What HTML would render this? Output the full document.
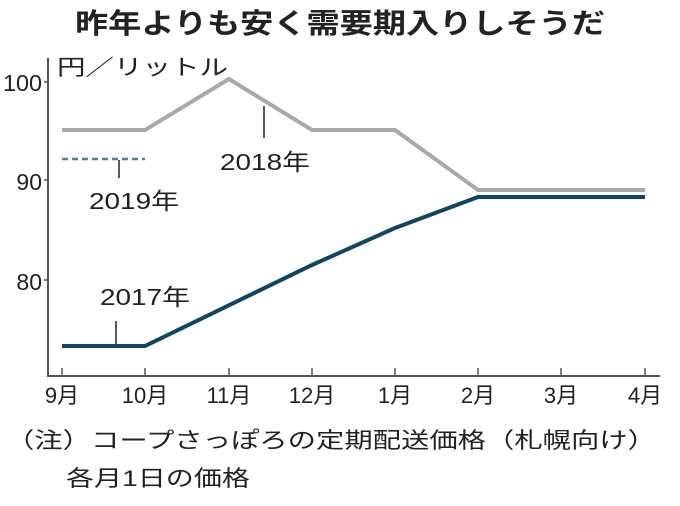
<!DOCTYPE html>
<html><head><meta charset="utf-8"><style>
body{margin:0;background:#fff;}
svg{display:block;}
text{font-family:"Liberation Sans","Noto Sans CJK JP",sans-serif;fill:#222;}
</style></head><body>
<svg width="680" height="506" viewBox="0 0 680 506">
<text x="75" y="33" font-size="28" font-weight="bold" textLength="530" lengthAdjust="spacingAndGlyphs" fill="#111">昨年よりも安く需要期入りしそうだ</text>
<line x1="48" y1="58" x2="48" y2="376" stroke="#555" stroke-width="2"/>
<line x1="47" y1="376" x2="660" y2="376" stroke="#555" stroke-width="2"/>
<g stroke="#555" stroke-width="1.5">
<line x1="44" y1="82" x2="48" y2="82"/><line x1="44" y1="180" x2="48" y2="180"/><line x1="44" y1="280" x2="48" y2="280"/>
<line x1="62" y1="368" x2="62" y2="376"/><line x1="145" y1="368" x2="145" y2="376"/><line x1="229" y1="368" x2="229" y2="376"/><line x1="312" y1="368" x2="312" y2="376"/><line x1="395" y1="368" x2="395" y2="376"/><line x1="478" y1="368" x2="478" y2="376"/><line x1="561" y1="368" x2="561" y2="376"/><line x1="645" y1="368" x2="645" y2="376"/>
</g>
<g font-size="23" text-anchor="end">
<text x="42" y="91" textLength="39" lengthAdjust="spacingAndGlyphs">100</text><text x="42" y="190">90</text><text x="42" y="290">80</text>
</g>
<text x="57" y="75" font-size="22" textLength="171" lengthAdjust="spacingAndGlyphs">円／リットル</text>
<polyline points="62,130 145,130 229,79 312,130 395,130 478,190 645,190" fill="none" stroke="#a9a8ae" stroke-width="4"/>
<polyline points="62,346 145,346 312,265 395,228 478,197 645,197" fill="none" stroke="#0f4560" stroke-width="4"/>
<line x1="62" y1="159" x2="145" y2="159" stroke="#5a7a9a" stroke-width="2.5" stroke-dasharray="6,4"/>
<g stroke="#222" stroke-width="1.5">
<line x1="264" y1="106" x2="264" y2="138"/>
<line x1="119" y1="160" x2="119" y2="178"/>
<line x1="116" y1="321" x2="116" y2="344"/>
</g>
<g font-size="23">
<text x="220" y="170" textLength="90" lengthAdjust="spacingAndGlyphs">2018年</text>
<text x="89" y="209" textLength="90" lengthAdjust="spacingAndGlyphs">2019年</text>
<text x="100" y="305" textLength="90" lengthAdjust="spacingAndGlyphs">2017年</text>
</g>
<g font-size="22" text-anchor="middle">
<text x="62" y="403">9月</text><text x="145" y="403">10月</text><text x="229" y="403">11月</text><text x="312" y="403">12月</text><text x="395" y="403">1月</text><text x="478" y="403">2月</text><text x="561" y="403">3月</text><text x="645" y="403">4月</text>
</g>
<text x="6" y="448" font-size="22" textLength="650" lengthAdjust="spacingAndGlyphs">（注）コープさっぽろの定期配送価格（札幌向け）</text>
<text x="66" y="486" font-size="22" textLength="184" lengthAdjust="spacingAndGlyphs">各月1日の価格</text>
</svg>
</body></html>
